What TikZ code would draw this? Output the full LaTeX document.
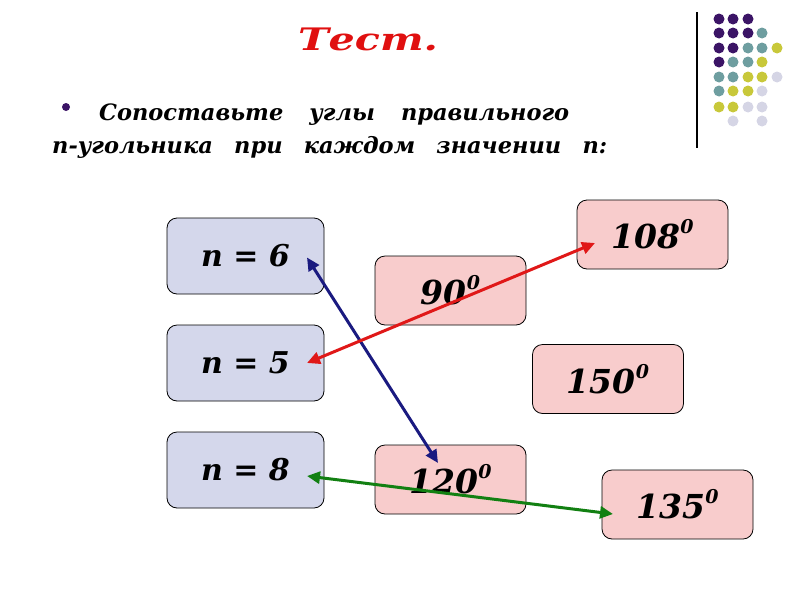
\documentclass[tikz,border=0pt]{standalone}
\usepackage{fontspec}
\setmainfont{DejaVu Serif}
\usetikzlibrary{arrows.meta,calc}
\definecolor{boxblue}{HTML}{D4D7EB}
\definecolor{boxpink}{HTML}{F8CCCC}
\definecolor{arrnavy}{HTML}{1A1A80}
\definecolor{arrred}{HTML}{E01818}
\definecolor{arrgreen}{HTML}{128012}
\definecolor{titlered}{HTML}{E01010}
\definecolor{dP}{HTML}{3B1466}
\definecolor{dT}{HTML}{6E9EA0}
\definecolor{dY}{HTML}{C8C83A}
\definecolor{dL}{HTML}{D5D5E5}
\tikzset{
  nbox/.style={draw=black, line width=0.8pt, rounded corners=10pt, fill=boxblue,
    minimum width=157pt, minimum height=76pt, inner sep=0pt,
    font=\fontsize{30}{36}\selectfont\bfseries\itshape},
  abox/.style={draw=black, line width=0.8pt, rounded corners=10pt, fill=boxpink,
    minimum width=151pt, minimum height=69pt, inner sep=0pt,
    font=\fontsize{33}{40}\selectfont\bfseries\itshape},
  link/.style={line width=3pt, {Triangle[length=13pt,width=12pt]}-{Triangle[length=13pt,width=12pt]}},
  dotc/.style={circle, inner sep=0pt, minimum size=11pt},
  qtext/.style={anchor=base west, inner sep=0pt, font=\fontsize{22.5}{26}\selectfont\bfseries\itshape}
}
\newcommand{\degr}[1]{#1\raisebox{0.45em}{\fontsize{19}{20}\selectfont 0}}
\begin{document}
\begin{tikzpicture}[x=1pt,y=-1pt]
\useasboundingbox (0,0) rectangle (800,600);
% title
\node[anchor=base, inner sep=0pt, text=titlered, font=\fontsize{31}{36}\selectfont\bfseries\itshape] (title) at (368,50) {\scalebox{1.33}[1]{Тест.}};
% bullet and question
\node[circle, fill=dP, inner sep=0pt, minimum size=8pt] (bul) at (66,107) {};
\node[qtext] (q1) at (99,120) {\makebox[470pt][s]{Сопоставьте углы правильного}};
\node[qtext] (q2) at (52,153) {\makebox[555pt][s]{n-угольника при каждом значении n:}};
% decoration
\draw[line width=1.5pt] (697,12) -- (697,148);
\foreach \c/\x/\y in {
 dP/719/19, dP/733/19, dP/748/19,
 dP/719/33, dP/733/33, dP/748/33, dT/762/33,
 dP/719/48, dP/733/48, dT/748/48, dT/762/48, dY/777/48,
 dP/719/62, dT/733/62, dT/748/62, dY/762/62,
 dT/719/77, dT/733/77, dY/748/77, dY/762/77, dL/777/77,
 dT/719/91, dY/733/91, dY/748/91, dL/762/91,
 dY/719/107, dY/733/107, dL/748/107, dL/762/107,
 dL/733/121, dL/762/121}
 \node[dotc, fill=\c] at (\x,\y) {};
% boxes
\node[nbox] (n6) at (245.5,256) {n = 6};
\node[nbox] (n5) at (245.5,363) {n = 5};
\node[nbox] (n8) at (245.5,470) {n = 8};
\node[abox] (a90) at (450.5,290.5) {\degr{90}};
\node[abox] (a108) at (652.5,234.5) {\degr{108}};
\node[abox] (a150) at (608,379) {\degr{150}};
\node[abox] (a120) at (450.5,479.5) {\degr{120}};
\node[abox] (a135) at (677.5,504.5) {\degr{135}};
% arrow end points
\coordinate (p6) at ($(n6.center)+(61.5,1.5)$);
\coordinate (p5) at ($(n5.center)+(61.5,0)$);
\coordinate (p8) at ($(n8.center)+(61.5,6)$);
\coordinate (q120) at ($(a120.center)+(-12.5,-16.5)$);
\coordinate (q108) at ($(a108.center)+(-57.5,8.5)$);
\coordinate (q135) at ($(a135.center)+(-64.5,9.5)$);
\draw[link, draw=arrnavy, fill=arrnavy] (p6) -- (q120);
\draw[link, draw=arrred, fill=arrred] (p5) -- (q108);
\draw[link, draw=arrgreen, fill=arrgreen] (p8) -- (q135);
\end{tikzpicture}
\end{document}
